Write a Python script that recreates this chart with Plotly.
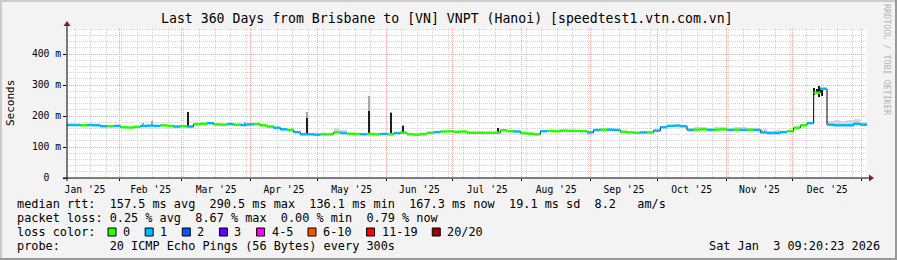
import pandas as pd
import plotly.graph_objects as go

# ---------------- data ----------------
title_text = "Last 360 Days from Brisbane to [VN] VNPT (Hanoi) [speedtest1.vtn.com.vn]"
t_start = "2025-01-08 09:20:23"
t_end = "2026-01-03 09:20:23"
stamp_text = "Sat Jan  3 09:20:23 2026"

# median rtt sampled every 3 days (ms)
sample_dates = pd.date_range(t_start, periods=121, freq="3D")
median_ms = [
    171, 171, 170, 171, 170, 167, 167, 168, 164, 163,
    165, 168, 169, 168, 170, 168, 166, 167, 166, 174,
    175, 177, 173, 172, 174, 172, 171, 173, 174, 170,
    166, 162, 157, 155, 148, 141, 141, 140, 141, 141,
    147, 145, 143, 142, 141, 142, 141, 142, 141, 145,
    146, 141, 140, 142, 146, 148, 150, 151, 149, 150,
    146, 146, 146, 146, 146, 154, 151, 150, 145, 143,
    141, 151, 152, 151, 153, 152, 152, 151, 147, 155,
    156, 156, 155, 149, 147, 146, 147, 147, 153, 164,
    168, 169, 167, 155, 156, 157, 155, 156, 157, 155,
    156, 155, 156, 155, 147, 145, 145, 148, 151, 162,
    170, 177, 275, 288, 172, 170, 170, 170, 175, 172,
    169,
]
# loss level index per sample (0 -> "0", 1 -> "1", ...)
loss_level = [
    1, 1, 0, 1, 1, 1, 0, 1, 0, 0,
    0, 1, 1, 1, 0, 0, 1, 0, 1, 0,
    0, 1, 0, 0, 1, 0, 1, 1, 0, 0,
    0, 1, 1, 0, 1, 1, 1, 1, 0, 0,
    0, 1, 0, 0, 1, 0, 0, 1, 0, 1,
    0, 0, 0, 0, 0, 1, 0, 0, 0, 0,
    0, 0, 0, 0, 0, 0, 0, 1, 0, 0,
    0, 1, 0, 0, 0, 0, 0, 0, 1, 1,
    0, 1, 1, 0, 0, 0, 1, 0, 1, 1,
    1, 1, 1, 1, 0, 0, 1, 0, 0, 1,
    0, 1, 0, 1, 1, 1, 1, 1, 0, 0,
    0, 1, 0, 1, 1, 1, 1, 1, 1, 1,
    1,
]

# light smoke above the median (indices into samples, top in ms)
smoke_idx = [40, 41, 50, 93, 94, 95, 96, 97, 98, 99, 100, 101, 102, 103, 104, 105, 106, 107,
             114, 115, 116, 117, 118, 119]
smoke_top = [160, 155, 152, 162, 163, 165, 161, 164, 166, 162, 164, 163, 162, 160, 158, 152, 155, 153,
             185, 188, 183, 186, 190, 182]

# narrow smoke spikes
spike_dates = ["2025-02-11 12:00", "2025-02-15 12:00", "2025-03-03 20:00", "2025-03-29 12:00",
               "2025-04-26 12:00", "2025-05-24 12:00", "2025-06-03 06:00", "2025-06-08 12:00",
               "2025-07-21 12:00", "2025-12-10 12:00", "2025-12-11 18:00", "2025-12-13 00:00",
               "2025-12-14 06:00"]
spike_base = [168, 169, 168, 172, 141, 142, 143, 146, 148, 268, 270, 262, 265]
spike_dark_top = [168, 169, 212, 172, 195, 217, 210, 168, 160, 292, 287, 297, 284]
spike_light_top = [176, 185, 214, 181, 212, 263, 212, 172, 160, 292, 287, 297, 284]

loss_labels = ["0", "1", "2", "3", "4-5", "6-10", "11-19", "20/20"]
loss_colors = ["#26ff00", "#00b8ff", "#0059ff", "#5e00ff", "#ff00fe", "#ff5500", "#ff0000", "#a10000"]

rtt_stats = ["157.5 ms avg", "290.5 ms max", "136.1 ms min", "167.3 ms now", "19.1 ms sd", "8.2   am/s"]
loss_stats = ["0.25 % avg", "8.67 % max", "0.00 % min", "0.79 % now"]
probe_text = "20 ICMP Echo Pings (56 Bytes) every 300s"

y_tickvals = [0, 100, 200, 300, 400]
y_ticktext = ["0  ", "100 m", "200 m", "300 m", "400 m"]

# ---------------- layout geometry ----------------
W, H = 897, 260
PL, PR, PT, PB = 67, 867, 28, 178
FONT = "DejaVu Sans Mono"
NB = "\u00a0"


def px(x):
    return (x - PL) / (PR - PL)


def py(y):
    return (PB - y) / (PB - PT)


def nb(s):
    return s.replace(" ", NB)


fig = go.Figure()

DAY = 86400000

# smoke band
fig.add_trace(go.Bar(
    x=[sample_dates[i] + pd.Timedelta(hours=36) for i in smoke_idx],
    y=[t - median_ms[i] for i, t in zip(smoke_idx, smoke_top)],
    base=[median_ms[i] for i in smoke_idx],
    width=3 * DAY, marker=dict(color="#d6d6d6", line=dict(width=0)),
    hoverinfo="skip", showlegend=False))

# spikes: light then dark part
fig.add_trace(go.Bar(
    x=pd.to_datetime(spike_dates), y=[t - b for t, b in zip(spike_light_top, spike_base)],
    base=spike_base, width=0.9 * DAY,
    marker=dict(color="#a8a8a8", line=dict(width=0)), hoverinfo="skip", showlegend=False))
fig.add_trace(go.Bar(
    x=pd.to_datetime(spike_dates), y=[t - b for t, b in zip(spike_dark_top, spike_base)],
    base=spike_base, width=0.9 * DAY,
    marker=dict(color="#1e1e1e", line=dict(width=0)), hoverinfo="skip", showlegend=False))

# black median step line
fig.add_trace(go.Scatter(
    x=sample_dates, y=median_ms, mode="lines",
    line=dict(color="#000000", width=1, shape="hv"),
    hoverinfo="skip", showlegend=False))

# loss coloured median segments
for lvl in sorted(set(loss_level)):
    xs, ys = [], []
    for i in range(len(median_ms) - 1):
        if loss_level[i] == lvl:
            xs += [sample_dates[i], sample_dates[i + 1], None]
            ys += [median_ms[i], median_ms[i], None]
    fig.add_trace(go.Scatter(
        x=xs, y=ys, mode="lines", line=dict(color=loss_colors[lvl], width=2.5),
        hoverinfo="skip", showlegend=False))

shapes = []
# frame of the whole image
shapes.append(dict(type="rect", xref="paper", yref="paper", x0=px(0), x1=px(W), y0=py(0), y1=py(2),
                   fillcolor="#cbcbcb", line=dict(width=0), layer="below"))
shapes.append(dict(type="rect", xref="paper", yref="paper", x0=px(0), x1=px(2), y0=py(0), y1=py(H),
                   fillcolor="#cbcbcb", line=dict(width=0), layer="below"))
shapes.append(dict(type="rect", xref="paper", yref="paper", x0=px(W - 2), x1=px(W), y0=py(0), y1=py(H),
                   fillcolor="#999999", line=dict(width=0), layer="below"))
shapes.append(dict(type="rect", xref="paper", yref="paper", x0=px(0), x1=px(W), y0=py(H - 2), y1=py(H),
                   fillcolor="#999999", line=dict(width=0), layer="below"))

# axes with arrows
shapes.append(dict(type="line", xref="paper", yref="paper", x0=px(63), x1=px(869), y0=0, y1=0,
                   line=dict(color="#000000", width=1)))
shapes.append(dict(type="line", xref="paper", yref="paper", x0=0, x1=0, y0=py(181), y1=py(25),
                   line=dict(color="#000000", width=1)))
shapes.append(dict(type="path", xref="paper", yref="paper",
                   path=f"M {px(869)} {py(174.5)} L {px(874)} {py(178)} L {px(869)} {py(181.5)} Z",
                   fillcolor="#8b1a1a", line=dict(width=0)))
shapes.append(dict(type="path", xref="paper", yref="paper",
                   path=f"M {px(63.5)} {py(26)} L {px(67)} {py(21)} L {px(70.5)} {py(26)} Z",
                   fillcolor="#8b1a1a", line=dict(width=0)))

annotations = []


def txt(s, x, y, size=11.85, anchor="left", color="#000000", angle=0):
    annotations.append(dict(text=nb(s), x=px(x), y=py(y), xref="paper", yref="paper",
                            xanchor=anchor, yanchor="middle", showarrow=False, textangle=angle,
                            borderpad=0, borderwidth=0,
                            font=dict(family=FONT, size=size, color=color)))


txt(title_text, 447, 19, size=13.2, anchor="center")
txt("Seconds", 10, 103, size=11, anchor="center", angle=-90)
txt("RRDTOOL / TOBI OETIKER", 887, 60, size=8.4, anchor="center", color="#b4b4b4", angle=90)

CW = 7.14
LX = 16.7
txt("median rtt:  " + "  ".join(rtt_stats), LX, 204)
txt("packet loss: " + "  ".join(loss_stats), LX, 218)
txt("loss color:", LX, 232)
txt("probe:       " + probe_text, LX, 246)
txt(stamp_text, 880, 246, anchor="right")

sx = LX + 13 * CW - 1.5
for lab, col in zip(loss_labels, loss_colors):
    shapes.append(dict(type="rect", xref="paper", yref="paper", x0=px(sx), x1=px(sx + 8),
                       y0=py(236), y1=py(228), fillcolor=col, line=dict(color="#000000", width=1)))
    txt(lab, sx + 15, 232)
    sx = sx + 15 + len(lab) * CW + 15

fig.update_layout(
    width=W, height=H,
    margin=dict(l=PL, r=W - PR, t=PT, b=H - PB, pad=0),
    paper_bgcolor="#f3f3f3", plot_bgcolor="#ffffff",
    barmode="overlay", bargap=0,
    showlegend=False, hovermode=False,
    font=dict(family=FONT, color="#000000"),
    shapes=shapes, annotations=annotations,
    xaxis=dict(
        type="date", range=[t_start, t_end],
        dtick="M1", tick0="2025-01-01", ticklabelmode="period", tickformat="%b '%y",
        showgrid=True, gridcolor="#f0a8a8", griddash="1px,1px", gridwidth=1,
        ticks="outside", ticklen=2, tickcolor="#000000",
        tickfont=dict(family=FONT, size=9.7, color="#000000"),
        minor=dict(dtick=7 * DAY, tick0="2025-01-12", showgrid=True, gridcolor="#d2d2d2",
                   griddash="1px,1px", gridwidth=1),
        showline=False, zeroline=False, fixedrange=True,
    ),
    yaxis=dict(
        range=[0, 484], tickvals=y_tickvals, ticktext=[nb(t) for t in y_ticktext],
        showgrid=True, gridcolor="#f0a8a8", griddash="1px,1px", gridwidth=1,
        ticks="outside", ticklen=3, tickcolor="#000000",
        tickfont=dict(family=FONT, size=9.7, color="#000000"),
        minor=dict(dtick=20, tick0=0, showgrid=True, gridcolor="#d2d2d2", griddash="1px,1px", gridwidth=1),
        showline=False, zeroline=False, fixedrange=True,
    ),
)

fig.write_html("out.html", config={"displayModeBar": False, "staticPlot": True})
